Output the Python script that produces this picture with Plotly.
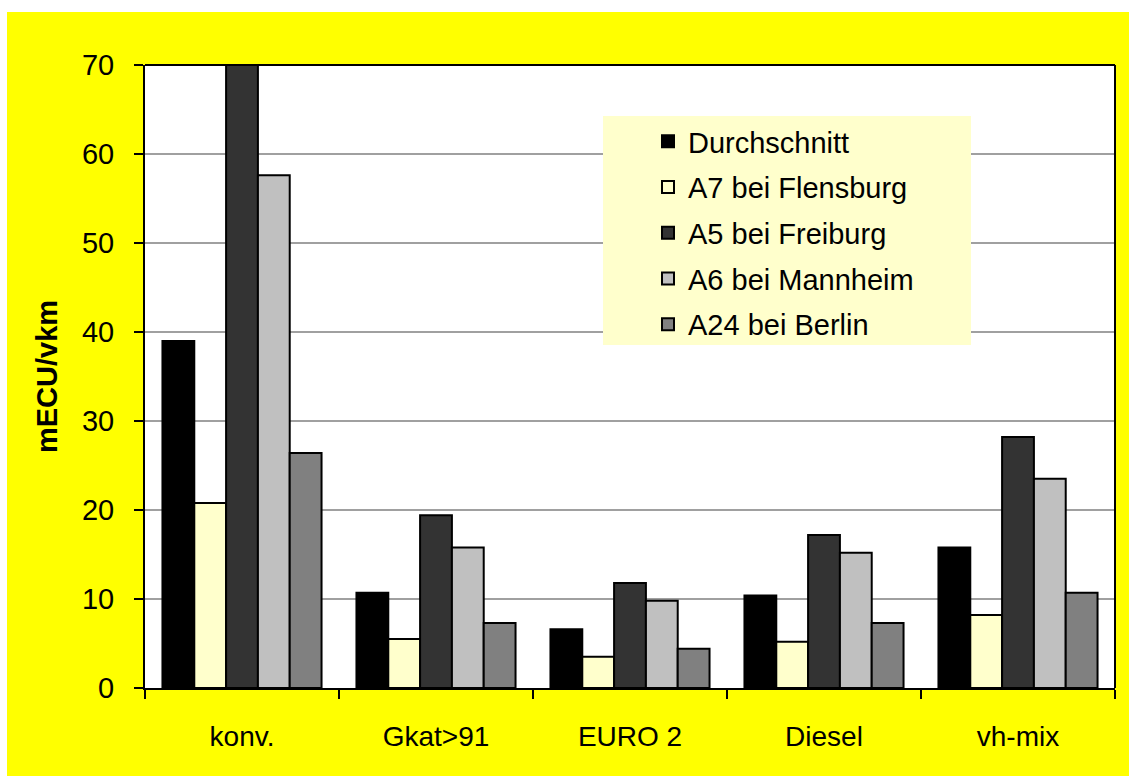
import plotly.graph_objects as go

categories = ["konv.", "Gkat>91", "EURO 2", "Diesel", "vh-mix"]
series_names = ["Durchschnitt", "A7 bei Flensburg", "A5 bei Freiburg", "A6 bei Mannheim", "A24 bei Berlin"]
durchschnitt = [39.0, 10.7, 6.6, 10.4, 15.8]
a7_flensburg = [20.8, 5.5, 3.5, 5.2, 8.2]
a5_freiburg = [71.0, 19.4, 11.8, 17.2, 28.2]
a6_mannheim = [57.6, 15.8, 9.8, 15.2, 23.5]
a24_berlin = [26.4, 7.3, 4.4, 7.3, 10.7]
y_ticks = [0, 10, 20, 30, 40, 50, 60, 70]

series_values = [durchschnitt, a7_flensburg, a5_freiburg, a6_mannheim, a24_berlin]
colors = ["#000000", "#FFFFCC", "#333333", "#C0C0C0", "#808080"]

# figure slightly larger than the window so the yellow panel reaches the edges
W, H = 1145, 792
L, R, T, B = 145, 1115, 65, 688
FONT = "Liberation Sans, Arial, sans-serif"


def px_x(x):
    return (x - L) / (R - L)


def px_y(y):
    return (B - y) / (B - T)


fig = go.Figure()
for i, (name, vals, col) in enumerate(zip(series_names, series_values, colors)):
    fig.add_trace(go.Bar(
        x=categories, y=vals, name=name, legendgroup=f"g{i}",
        marker=dict(color=col, line=dict(color="#000000", width=2)),
    ))

fig.update_layout(
    width=W, height=H,
    margin=dict(l=L, r=W - R, t=T, b=H - B, pad=0),
    paper_bgcolor="#FFFF00",
    plot_bgcolor="#FFFFFF",
    barmode="group",
    bargap=0.18,
    bargroupgap=0,
    font=dict(family=FONT, size=28, color="#000000"),
    showlegend=True,
    legend=dict(
        x=px_x(603), y=px_y(116),
        xanchor="left", yanchor="top",
        bgcolor="rgba(0,0,0,0)", borderwidth=0,
        font=dict(size=29, family=FONT),
        tracegroupgap=5,
        itemsizing="constant",
        indentation=45,
    ),
    xaxis=dict(
        type="category",
        showgrid=False,
        showline=True, linecolor="#000000", linewidth=2,
        ticks="outside", tickson="boundaries", ticklen=9, tickwidth=2, tickcolor="#000000",
        tickfont=dict(size=28, family=FONT),
        ticklabelstandoff=22,
    ),
    yaxis=dict(
        range=[0, 70],
        tickvals=y_ticks,
        showgrid=True, gridcolor="#A0A0A0", gridwidth=2,
        showline=True, linecolor="#000000", linewidth=2,
        ticks="outside", ticklen=9, tickwidth=2, tickcolor="#000000",
        tickfont=dict(size=29, family=FONT),
        ticklabelstandoff=14,
        title=dict(text="<b>mECU/vkm</b>", font=dict(size=29, family=FONT), standoff=16),
        zeroline=False,
    ),
    shapes=[
        # white page border left and top of the yellow panel
        dict(type="rect", xref="paper", yref="paper",
             x0=px_x(-5), x1=px_x(7), y0=-1, y1=2,
             fillcolor="#FFFFFF", line=dict(width=0), layer="below"),
        dict(type="rect", xref="paper", yref="paper",
             x0=-1, x1=2, y0=px_y(12), y1=px_y(-5),
             fillcolor="#FFFFFF", line=dict(width=0), layer="below"),
        # legend background box
        dict(type="rect", xref="paper", yref="paper",
             x0=px_x(603), x1=px_x(971), y0=px_y(345), y1=px_y(116),
             fillcolor="#FFFFCC", line=dict(width=0), layer="above"),
        dict(type="line", xref="paper", yref="paper", x0=0, x1=1, y0=1, y1=1,
             line=dict(color="#000000", width=2)),
        dict(type="line", xref="paper", yref="paper", x0=1, x1=1, y0=0, y1=1,
             line=dict(color="#000000", width=2)),
    ],
)

fig.write_html(
    "out.html",
    config={"displayModeBar": False},
    post_script="document.body.style.margin='0';document.body.style.overflow='hidden';",
)
